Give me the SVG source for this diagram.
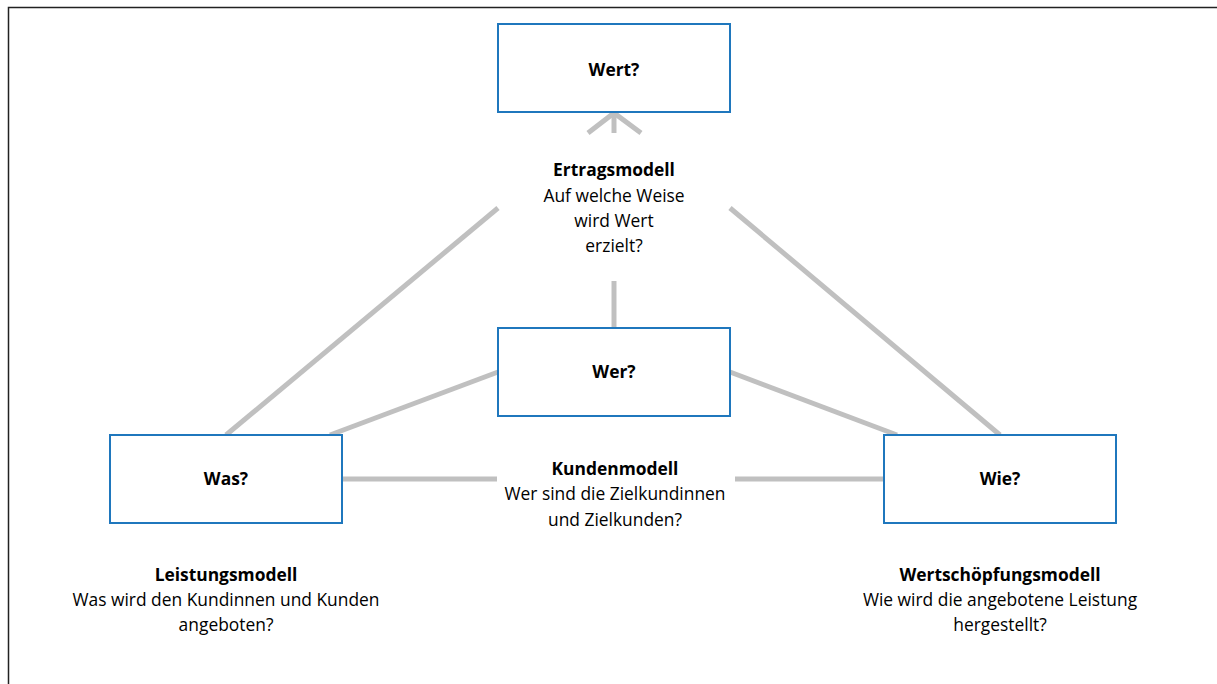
<svg xmlns="http://www.w3.org/2000/svg" width="1217" height="684" viewBox="0 0 1217 684">
  <style>
    .box { fill: #ffffff; stroke: #1f77bd; stroke-width: 2; }
    .link { stroke: #c0c0c0; stroke-width: 5; fill: none; }
    text { font-family: "Open Sans", "Liberation Sans", sans-serif; font-size: 17.4px; fill: #000000; text-anchor: middle; }
    .b { font-weight: bold; }
  </style>
  <rect width="1217" height="684" fill="#ffffff"/>
  <!-- frame -->
  <path d="M8.5,684 V7.5 H1217" fill="none" stroke="#222222" stroke-width="1.5"/>

  <g id="connectors">
    <line class="link" x1="226" y1="435" x2="498" y2="208"/>
    <line class="link" x1="730" y1="208" x2="1000" y2="435"/>
    <line class="link" x1="330" y1="435" x2="498" y2="372"/>
    <line class="link" x1="730" y1="372" x2="897" y2="435"/>
    <line class="link" x1="342" y1="479" x2="497" y2="479"/>
    <line class="link" x1="735" y1="479" x2="884" y2="479"/>
    <line class="link" x1="614" y1="281" x2="614" y2="328"/>
    <!-- arrow below the top box -->
    <line class="link" x1="614" y1="113" x2="614" y2="133"/>
    <polyline class="link" points="588,133 614,113 641,133"/>
  </g>

  <g id="wert">
    <rect class="box" x="498" y="24" width="232" height="88"/>
    <text class="b" x="614" y="76">Wert?</text>
  </g>
  <g id="wer">
    <rect class="box" x="498" y="328" width="232" height="88"/>
    <text class="b" x="614" y="378">Wer?</text>
  </g>
  <g id="was">
    <rect class="box" x="110" y="435" width="232" height="88"/>
    <text class="b" x="226" y="485">Was?</text>
  </g>
  <g id="wie">
    <rect class="box" x="884" y="435" width="232" height="88"/>
    <text class="b" x="1000" y="485">Wie?</text>
  </g>

  <g id="ertragsmodell">
    <text class="b" x="614" y="176">Ertragsmodell</text>
    <text x="614" y="202">Auf welche Weise</text>
    <text x="614" y="227">wird Wert</text>
    <text x="614" y="252">erzielt?</text>
  </g>
  <g id="kundenmodell">
    <text class="b" x="615" y="475">Kundenmodell</text>
    <text x="615" y="500">Wer sind die Zielkundinnen</text>
    <text x="615" y="526">und Zielkunden?</text>
  </g>
  <g id="leistungsmodell">
    <text class="b" x="226" y="581">Leistungsmodell</text>
    <text x="226" y="606">Was wird den Kundinnen und Kunden</text>
    <text x="226" y="631">angeboten?</text>
  </g>
  <g id="wertschoepfungsmodell">
    <text class="b" x="1000" y="581">Wertschöpfungsmodell</text>
    <text x="1000" y="606">Wie wird die angebotene Leistung</text>
    <text x="1000" y="631">hergestellt?</text>
  </g>
</svg>
